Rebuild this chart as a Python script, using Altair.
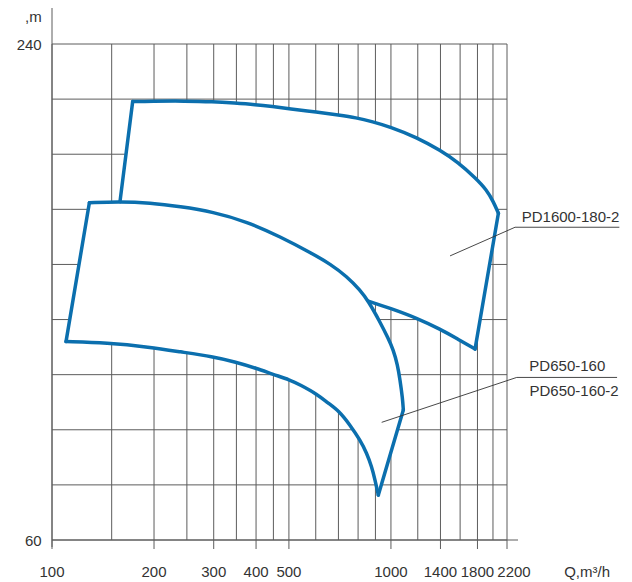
import altair as alt
import pandas as pd

# ---------------- data ----------------
GRID_Q = [100, 150, 200, 250, 300, 350, 400, 450, 500, 600, 700, 800, 900,
          1000, 1200, 1400, 1600, 1800, 2000, 2200]
GRID_H = [60, 80, 100, 120, 140, 160, 180, 200, 220, 240]
TICK_Q = [100, 200, 300, 400, 500, 1000, 1400, 1800, 2200]
TICK_LABELS = ["100", "200", "300", "400", "500", "1000", "1400", "1800", "2200"]
H_TICKS = [60, 240]
H_LABELS = ["60", "240"]

# PD650-160 envelope: top edge (left -> right), then lower edge (tip -> left)
R2_TOP_Q = [128.9, 158.7, 194.6, 238.6, 298.6, 376.2, 470.8, 589.0, 661.2, 742.1,
            810.8, 857.8, 928.7, 980.5, 1016.4, 1045.8, 1063.7, 1081.9, 1087.8]
R2_TOP_H = [182.4, 182.8, 182.3, 181.0, 179.1, 175.5, 170.1, 163.8, 160.2, 155.6,
            150.7, 146.7, 139.1, 133.3, 129.0, 123.5, 118.1, 111.5, 107.2]
R2_BOT_Q = [918.0, 897.7, 877.7, 848.5, 810.8, 757.4, 703.0, 652.2, 604.0, 539.3,
            503.8, 448.9, 401.8, 345.1, 299.2, 238.6, 194.6, 145.0, 110.0]
R2_BOT_H = [76.3, 81.8, 86.5, 91.5, 96.3, 101.7, 106.8, 109.7, 113.0, 116.3,
            118.1, 120.1, 122.3, 124.7, 126.5, 128.3, 130.0, 131.6, 132.0]

# PD1600-180-2 envelope: top edge (left -> right), lower edge (right -> junction)
R1_TOP_Q = [173.0, 196.0, 246.8, 298.0, 345.1, 399.1, 446.8, 501.4, 605.2, 702.9,
            787.4, 883.7, 989.2, 1194.0, 1402.8, 1574.8, 1779.2, 1917.0, 2005.0, 2075.0]
R1_TOP_H = [219.1, 219.3, 219.3, 219.1, 218.6, 218.0, 217.3, 216.5, 215.3, 214.2,
            213.3, 211.8, 210.0, 206.1, 201.3, 197.1, 191.3, 187.0, 182.8, 178.6]
R1_BOT_Q = [1770.8, 1566.9, 1396.1, 1194.0, 993.9, 857.8]
R1_BOT_H = [129.3, 133.1, 136.5, 140.5, 144.1, 146.7]

LEADER1_Q = [1494, 2324, 4720]
LEADER1_H = [163.1, 173.5, 173.5]
LEADER2_Q = [939, 2350, 4647]
LEADER2_H = [102.7, 119.0, 119.0]

MODEL_LABELS = ["PD1600-180-2", "PD650-160", "PD650-160-2"]
MODEL_Q = [2432, 2561, 2563]
MODEL_H = [175.5, 121.4, 112.3]

# ---------------- style ----------------
FONT = "Liberation Sans"
FS = 15
BLUE = "#0b6fae"
GRID = "#5c5c5c"
TXT = "#333333"
W, H = 455, 496

xs = alt.Scale(type="log", domain=[100, 2200], nice=False)
ys = alt.Scale(type="linear", domain=[60, 240], nice=False, zero=False)


def X(f):
    return alt.X(f, type="quantitative", scale=xs, axis=None)


def Y(f):
    return alt.Y(f, type="quantitative", scale=ys, axis=None)


def frame(qs, hs, name):
    return pd.DataFrame({"q": qs, "h": hs, "g": name, "i": range(len(qs))})


# filled white polygons (hide the grid inside the envelopes)
junction = R2_TOP_Q.index(R1_BOT_Q[-1])
back_q = R2_TOP_Q[1:junction][::-1]
back_h = R2_TOP_H[1:junction][::-1]
r1 = frame(R1_TOP_Q + R1_BOT_Q + back_q + [R1_TOP_Q[0]],
           R1_TOP_H + R1_BOT_H + back_h + [R1_TOP_H[0]], "r1")
r2 = frame(R2_TOP_Q + R2_BOT_Q + [R2_TOP_Q[0]],
           R2_TOP_H + R2_BOT_H + [R2_TOP_H[0]], "r2")
fills = alt.Chart(pd.concat([r1, r2])).mark_line(
    fill="white", strokeOpacity=0, strokeWidth=0).encode(
    x=X("q"), y=Y("h"), detail="g:N", order="i:Q")

# curved outline parts
curves_df = pd.concat([
    frame(R1_TOP_Q, R1_TOP_H, "c1"),
    frame(R1_BOT_Q, R1_BOT_H, "c2"),
    frame(R2_TOP_Q, R2_TOP_H, "c3"),
    frame(R2_BOT_Q, R2_BOT_H, "c4"),
])
curves = alt.Chart(curves_df).mark_line(
    color=BLUE, strokeWidth=3.5, interpolate="basis", strokeCap="round").encode(
    x=X("q"), y=Y("h"), detail="g:N", order="i:Q")

# straight outline parts
edges_df = pd.concat([
    frame([R1_TOP_Q[0], R2_TOP_Q[1]], [R1_TOP_H[0], R2_TOP_H[1]], "e1"),
    frame([R1_TOP_Q[-1], R1_BOT_Q[0]], [R1_TOP_H[-1], R1_BOT_H[0]], "e2"),
    frame([R2_TOP_Q[-1], R2_BOT_Q[0]], [R2_TOP_H[-1], R2_BOT_H[0]], "e3"),
    frame([R2_BOT_Q[-1], R2_TOP_Q[0]], [R2_BOT_H[-1], R2_TOP_H[0]], "e4"),
])
edges = alt.Chart(edges_df).mark_line(
    color=BLUE, strokeWidth=3.5, strokeCap="round").encode(
    x=X("q"), y=Y("h"), detail="g:N", order="i:Q")

vgrid_df = pd.DataFrame({"q": GRID_Q, "h0": 240, "h1": 60})
hgrid_df = pd.DataFrame({"h": GRID_H, "q0": 100, "q1": 2200})
tick_df = pd.DataFrame({"q": TICK_Q, "label": TICK_LABELS})
hlab_df = pd.DataFrame({"h": H_TICKS, "label": H_LABELS})

vgrid = alt.Chart(vgrid_df).mark_rule(color=GRID, strokeWidth=1).encode(
    x=X("q"), y=Y("h0"), y2="h1")
hgrid = alt.Chart(hgrid_df).mark_rule(color=GRID, strokeWidth=1).encode(
    y=Y("h"), x=X("q0"), x2="q1")
ticks = alt.Chart(tick_df).mark_rule(color=GRID, strokeWidth=1).encode(
    x=X("q"), y=alt.value(H), y2=alt.value(H + 9))
yaxis = alt.Chart(pd.DataFrame({"q": [100]})).mark_rule(color=GRID, strokeWidth=1).encode(
    x=X("q"), y=alt.value(-36), y2=alt.value(H + 7))
xaxis = alt.Chart(pd.DataFrame({"h": [60]})).mark_rule(color=GRID, strokeWidth=1).encode(
    y=Y("h"), x=alt.value(0), x2=alt.value(W + 11))

lead_df = pd.concat([frame(LEADER1_Q, LEADER1_H, "a"), frame(LEADER2_Q, LEADER2_H, "b")])
leaders = alt.Chart(lead_df).mark_line(color=TXT, strokeWidth=0.9).encode(
    x=X("q"), y=Y("h"), detail="g:N", order="i:Q")

model_df = pd.DataFrame({"q": MODEL_Q, "h": MODEL_H, "label": MODEL_LABELS})
models = alt.Chart(model_df).mark_text(align="left", baseline="alphabetic", font=FONT,
                                       fontSize=FS, color=TXT).encode(
    x=X("q"), y=Y("h"), text="label:N")

xlab_main = alt.Chart(tick_df).transform_filter("datum.q < 2000").mark_text(
    align="center", baseline="alphabetic", font=FONT, fontSize=FS, color=TXT).encode(
    x=X("q"), y=alt.value(H + 36.7), text="label:N")
xlab_last = alt.Chart(tick_df).transform_filter("datum.q >= 2000").mark_text(
    align="center", baseline="alphabetic", font=FONT, fontSize=FS, color=TXT, dx=7).encode(
    x=X("q"), y=alt.value(H + 36.7), text="label:N")
ylab = alt.Chart(hlab_df).mark_text(
    align="right", baseline="alphabetic", font=FONT, fontSize=FS, color=TXT, dy=6).encode(
    y=Y("h"), x=alt.value(-10.3), text="label:N")
ytitle = alt.Chart(pd.DataFrame({"t": [",m"]})).mark_text(
    align="right", baseline="alphabetic", font=FONT, fontSize=FS, color=TXT).encode(
    x=alt.value(-10.3), y=alt.value(-22.3), text="t:N")
xtitle = alt.Chart(pd.DataFrame({"t": ["Q,m³/h"]})).mark_text(
    align="right", baseline="alphabetic", font=FONT, fontSize=FS, color=TXT).encode(
    x=alt.value(558), y=alt.value(H + 36.7), text="t:N")

chart = alt.layer(
    vgrid, hgrid, ticks, yaxis, xaxis, fills, curves, edges, leaders, models,
    xlab_main, xlab_last, ylab, ytitle, xtitle
).properties(
    width=W, height=H,
    autosize=alt.AutoSizeParams(type="none"),
    padding={"left": 52, "top": 44, "right": 125, "bottom": 42},
    background="white",
).configure_view(stroke=None)

chart.save("out.html", embed_options={"renderer": "svg", "actions": False})
